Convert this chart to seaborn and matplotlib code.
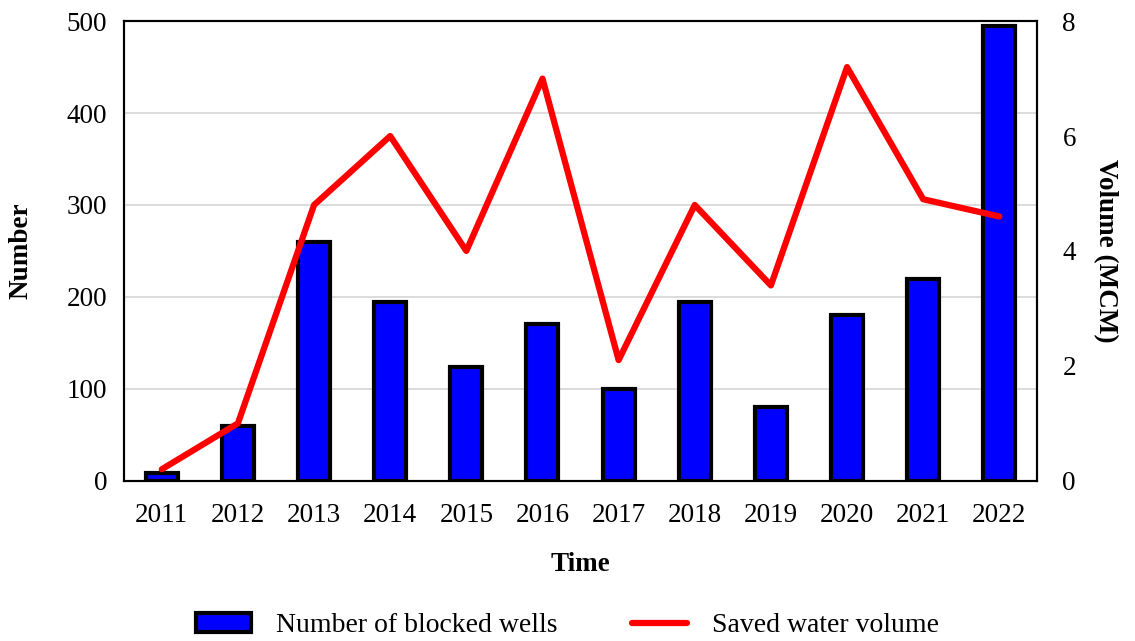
import numpy as np
import pandas as pd
import matplotlib
matplotlib.use("Agg")
import matplotlib.pyplot as plt
import seaborn as sns
from matplotlib.patches import Patch
from matplotlib.lines import Line2D

# data
years = ["2011", "2012", "2013", "2014", "2015", "2016",
         "2017", "2018", "2019", "2020", "2021", "2022"]
blocked_wells = [8, 60, 260, 195, 124, 170, 100, 195, 80, 180, 220, 495]
saved_volume = [0.2, 1.0, 4.8, 6.0, 4.0, 7.0, 2.1, 4.8, 3.4, 7.2, 4.9, 4.6]

df = pd.DataFrame({"Time": years, "Number": blocked_wells, "Volume": saved_volume})

sns.set_style("white")
plt.rcParams["font.family"] = ["Liberation Serif", "DejaVu Serif"]
plt.rcParams["font.size"] = 19.5
plt.rcParams["text.color"] = "black"
plt.rcParams["axes.labelcolor"] = "black"
plt.rcParams["xtick.color"] = "black"
plt.rcParams["ytick.color"] = "black"

fig = plt.figure(figsize=(11.35, 6.41), dpi=100)
ax = fig.add_axes([0.109, 0.250, 0.805, 0.717])

ax.yaxis.grid(True, color="#d9d9d9", linewidth=1.3)
ax.set_axisbelow(True)
sns.barplot(data=df, x="Time", y="Number", color="#0000ff", width=0.42,
            edgecolor="black", linewidth=3, saturation=1, ax=ax, zorder=2)
ax.set_ylim(0, 500)
ax.set_xlim(-0.5, len(years) - 0.5)
ax.set_yticks(range(0, 501, 100))
ax.set_xlabel("Time", fontweight="bold", labelpad=17)
ax.set_ylabel("Number", fontweight="bold", labelpad=24)
ax.tick_params(axis="x", length=0, pad=16)
ax.tick_params(axis="y", length=0, pad=12)

ax2 = ax.twinx()
sns.lineplot(x=np.arange(len(years)), y=saved_volume, color="#ff0000",
             linewidth=4.5, ax=ax2)
ax2.set_ylim(0, 8)
ax2.set_yticks(range(0, 9, 2))
ax2.set_ylabel("Volume (MCM)", fontweight="bold", rotation=270, labelpad=30)
ax2.tick_params(axis="y", length=0, pad=18)
ax2.grid(False)

for a in (ax, ax2):
    for s in a.spines.values():
        s.set_visible(True)
        s.set_color("black")
        s.set_linewidth(1.5)

handles = [Patch(facecolor="#0000ff", edgecolor="black", linewidth=3),
           Line2D([0], [0], color="#ff0000", linewidth=4.5)]
fig.legend(handles, ["Number of blocked wells", "Saved water volume"],
           loc="lower center", bbox_to_anchor=(0.5, -0.035), ncol=2,
           frameon=False, fontsize=20, columnspacing=2.65, handlelength=2.0,
           handletextpad=0.9)

fig.savefig("out.png", dpi=100)
